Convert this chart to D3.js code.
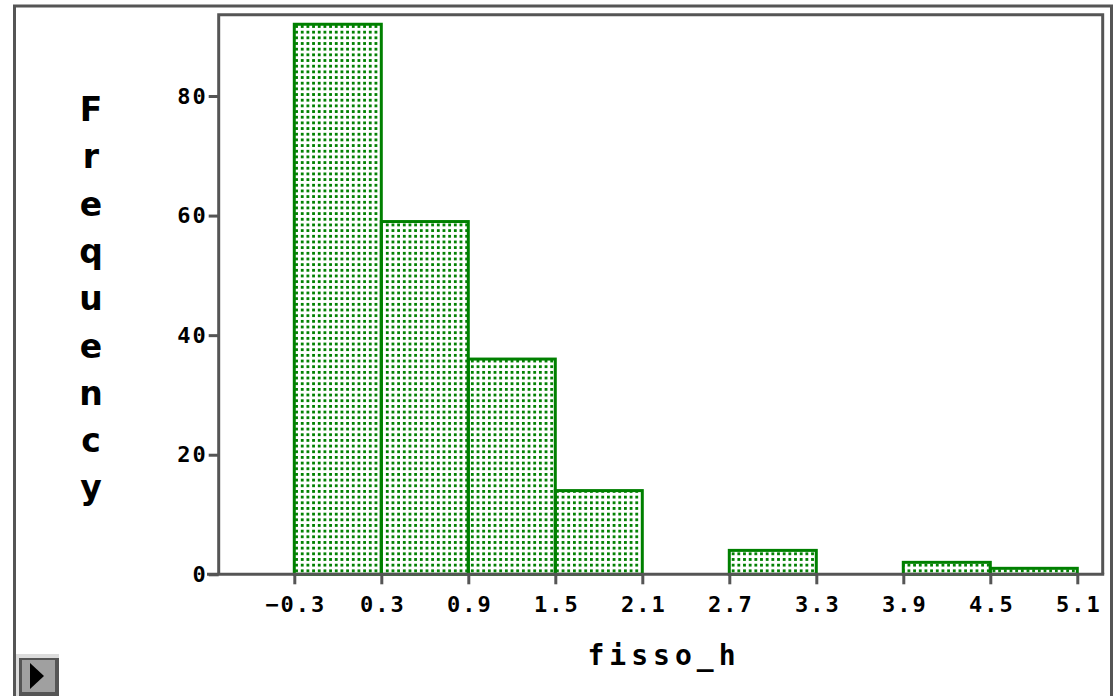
<!DOCTYPE html>
<html>
<head>
<meta charset="utf-8">
<script src="https://cdn.jsdelivr.net/npm/d3@7"></script>
<style>
  body { margin: 0; background: #fff; }
  svg { display: block; }
  .tick text { font-family: "DejaVu Sans Mono", monospace; font-size: 22px; font-weight: bold; fill: #000; letter-spacing: 2px; }
</style>
</head>
<body>
<div id="chart"></div>
<script>
// histogram of fisso_h
var binEdges = [-0.3, 0.3, 0.9, 1.5, 2.1, 2.7, 3.3, 3.9, 4.5, 5.1];
var counts = [92, 59, 36, 14, 0, 4, 0, 2, 1];
var yTicks = [0, 20, 40, 60, 80];
var xTitle = "fisso_h";
var yTitle = "Frequency";

var W = 1114, H = 696;
var plot = { left: 218.7, top: 14.7, right: 1102.7, bottom: 574.3 };
var grey = "#555555", green = "#008000";

var svg = d3.select("#chart")
  .append("svg")
  .attr("width", W)
  .attr("height", H);

// dotted fill for the bars
var pat = svg.append("defs").append("pattern")
  .attr("id", "dots")
  .attr("patternUnits", "userSpaceOnUse")
  .attr("x", 0.3)
  .attr("y", 2.4)
  .attr("width", 5.67)
  .attr("height", 5.67);
pat.append("rect")
  .attr("width", 2.8)
  .attr("height", 2.8)
  .attr("fill", green);

// scales
var x = d3.scaleLinear()
  .domain([-0.3, 5.1])
  .range([294.3, 1077.3]);
var y = d3.scaleLinear()
  .domain([0, 80])
  .range([plot.bottom, 96]);

var bins = counts.map(function(c, i) {
  return { x0: binEdges[i], x1: binEdges[i + 1], count: c };
});

// outer frame
svg.append("path")
  .attr("d", "M14.5," + (H + 5) + "V6H1111.5V" + (H + 5))
  .attr("fill", "none")
  .attr("stroke", grey)
  .attr("stroke-width", 3);

// bars
svg.selectAll("rect.bar")
  .data(bins.filter(function(d) { return d.count > 0; }))
  .enter()
  .append("rect")
  .attr("class", "bar")
  .attr("x", function(d) { return x(d.x0); })
  .attr("y", function(d) { return y(d.count); })
  .attr("width", function(d) { return x(d.x1) - x(d.x0); })
  .attr("height", function(d) { return y(0) - y(d.count); })
  .attr("fill", "url(#dots)")
  .attr("stroke", green)
  .attr("stroke-width", 3);

// plot frame (left, top, right), bottom is the x axis line
svg.append("path")
  .attr("d", "M" + plot.left + "," + plot.bottom + "V" + plot.top + "H" + plot.right + "V" + plot.bottom)
  .attr("fill", "none")
  .attr("stroke", grey)
  .attr("stroke-width", 3);

// x axis
var xAxis = svg.append("g")
  .attr("transform", "translate(0," + plot.bottom + ")")
  .call(d3.axisBottom(x)
    .tickValues(binEdges)
    .tickSize(10)
    .tickPadding(12)
    .tickFormat(d3.format(".1f")));
xAxis.select(".domain").remove();
xAxis.selectAll(".tick text").attr("dx", "1px");

svg.append("line")
  .attr("x1", 207)
  .attr("x2", plot.right + 1.5)
  .attr("y1", plot.bottom)
  .attr("y2", plot.bottom)
  .attr("stroke", grey)
  .attr("stroke-width", 3);

// y axis
var yAxis = svg.append("g")
  .attr("transform", "translate(" + plot.left + ",0)")
  .call(d3.axisLeft(y)
    .tickValues(yTicks)
    .tickSize(10)
    .tickPadding(1));
yAxis.select(".domain").remove();

svg.selectAll(".tick line")
  .attr("stroke", grey)
  .attr("stroke-width", 3);

// axis titles
svg.append("text")
  .attr("x", 664)
  .attr("y", 665)
  .attr("text-anchor", "middle")
  .style("font-family", "'DejaVu Sans Mono', monospace")
  .style("font-weight", "bold")
  .style("font-size", "28px")
  .style("letter-spacing", "5px")
  .text(xTitle);

var yt = svg.append("text")
  .attr("text-anchor", "middle")
  .style("font-family", "'DejaVu Sans', sans-serif")
  .style("font-weight", "bold")
  .style("font-size", "33px");
yt.selectAll("tspan")
  .data(yTitle.split(""))
  .enter()
  .append("tspan")
  .attr("x", 91)
  .attr("y", function(d, i) { return 121 + i * 47.3; })
  .text(function(d) { return d; });

// little play button bottom left
var btn = svg.append("g");
btn.append("rect").attr("x", 16).attr("y", 654).attr("width", 43).attr("height", 42).attr("fill", "#dcdcdc");
btn.append("rect").attr("x", 19).attr("y", 658).attr("width", 40).attr("height", 38).attr("fill", grey);
btn.append("rect").attr("x", 22).attr("y", 660).attr("width", 33).attr("height", 32).attr("fill", "#a0a0a0");
btn.append("path").attr("d", "M30,663L44,676L30,689Z").attr("fill", "#000");
</script>
</body>
</html>
